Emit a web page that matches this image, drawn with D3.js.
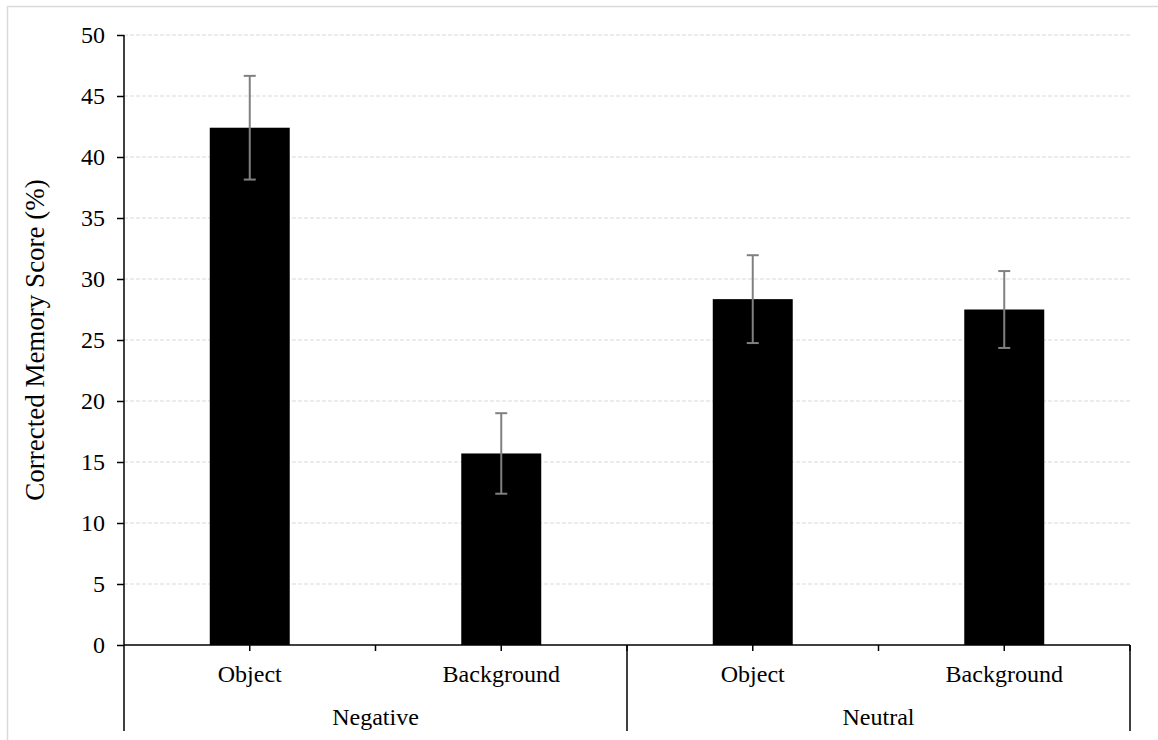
<!DOCTYPE html>
<html>
<head>
<meta charset="utf-8">
<script src="https://cdn.jsdelivr.net/npm/d3@7"></script>
<style>
  html, body { margin: 0; padding: 0; background: #fff; }
  svg { display: block; }
  text { font-family: "Liberation Serif", "Times New Roman", serif; fill: #000; }
</style>
</head>
<body>
<svg id="chart" width="1158" height="740"></svg>
<script>
// Corrected memory scores by valence and item type
const groups = ["Negative", "Neutral"];
const items = ["Object", "Background"];
const categories = ["Negative|Object", "Negative|Background", "Neutral|Object", "Neutral|Background"];
const scores = [42.4, 15.7, 28.35, 27.5];
const errors = [4.25, 3.3, 3.6, 3.15];
const yTicks = [0, 5, 10, 15, 20, 25, 30, 35, 40, 45, 50];

const svg = d3.select("#chart");
const W = 1158, H = 740;
const plotLeft = 124, plotRight = 1130, plotTop = 35, plotBottom = 645, axisFoot = 731;

svg.append("rect").attr("width", W).attr("height", H).attr("fill", "#fff");
// outer frame
svg.append("rect")
  .attr("x", 7.5).attr("y", 6.5).attr("width", W).attr("height", H)
  .attr("fill", "none").attr("stroke", "#d9d9d9").attr("stroke-width", 1.5);

const y = d3.scaleLinear().domain([0, 50]).range([plotBottom, plotTop]);
const x = d3.scaleBand().domain(categories).range([plotLeft, plotRight])
  .paddingInner(0.682).paddingOuter(0.341);
const slot = d3.scaleBand().domain(categories).range([plotLeft, plotRight]).padding(0);
const grp = d3.scaleBand().domain(groups).range([plotLeft, plotRight]).padding(0);

// gridlines
svg.append("g").selectAll("line")
  .data(yTicks.filter(t => t > 0))
  .join("line")
  .attr("x1", plotLeft).attr("x2", plotRight)
  .attr("y1", d => y(d)).attr("y2", d => y(d))
  .attr("stroke", "#d9d9d9").attr("stroke-width", 1)
  .attr("stroke-dasharray", "4,2");

// bars
svg.append("g").selectAll("rect")
  .data(categories)
  .join("rect")
  .attr("x", d => x(d))
  .attr("width", x.bandwidth())
  .attr("y", (d, i) => y(scores[i]))
  .attr("height", (d, i) => y(0) - y(scores[i]))
  .attr("fill", "#000");

// error bars
const eb = svg.append("g").attr("stroke", "#808080").attr("stroke-width", 2);
categories.forEach((c, i) => {
  const cx = x(c) + x.bandwidth() / 2;
  const hi = y(scores[i] + errors[i]), lo = y(scores[i] - errors[i]);
  eb.append("line").attr("x1", cx).attr("x2", cx).attr("y1", hi).attr("y2", lo);
  eb.append("line").attr("x1", cx - 6).attr("x2", cx + 6).attr("y1", hi).attr("y2", hi);
  eb.append("line").attr("x1", cx - 6).attr("x2", cx + 6).attr("y1", lo).attr("y2", lo);
});

// y axis
const yAxis = d3.axisLeft(y).tickValues(yTicks).tickSize(7).tickPadding(12);
const yg = svg.append("g").attr("transform", `translate(${plotLeft},0)`).call(yAxis);
yg.select(".domain").remove();
yg.selectAll(".tick line").attr("stroke", "#000").attr("stroke-width", 1.5);
yg.selectAll(".tick text").attr("font-size", 24).attr("font-family", "Liberation Serif");
svg.append("line").attr("x1", plotLeft).attr("x2", plotLeft).attr("y1", plotTop).attr("y2", axisFoot)
  .attr("stroke", "#000").attr("stroke-width", 1.5);

// x axis baseline
svg.append("line").attr("x1", plotLeft).attr("x2", plotRight).attr("y1", plotBottom).attr("y2", plotBottom)
  .attr("stroke", "#000").attr("stroke-width", 1.5);

// short ticks at category centres and boundaries
const tickXs = [];
categories.forEach(c => { tickXs.push(slot(c) + slot.bandwidth() / 2); tickXs.push(slot(c) + slot.bandwidth()); });
svg.append("g").selectAll("line").data(tickXs).join("line")
  .attr("x1", d => d).attr("x2", d => d).attr("y1", plotBottom).attr("y2", plotBottom + 6)
  .attr("stroke", "#000").attr("stroke-width", 1.5);

// group dividers
svg.append("g").selectAll("line").data(groups).join("line")
  .attr("x1", d => grp(d) + grp.bandwidth()).attr("x2", d => grp(d) + grp.bandwidth())
  .attr("y1", plotBottom).attr("y2", axisFoot)
  .attr("stroke", "#000").attr("stroke-width", 1.5);

// item labels
svg.append("g").selectAll("text").data(categories).join("text")
  .attr("x", d => slot(d) + slot.bandwidth() / 2)
  .attr("y", 682)
  .attr("text-anchor", "middle").attr("font-size", 24)
  .text(d => d.split("|")[1]);

// group labels
svg.append("g").selectAll("text").data(groups).join("text")
  .attr("x", d => grp(d) + grp.bandwidth() / 2)
  .attr("y", 725)
  .attr("text-anchor", "middle").attr("font-size", 24)
  .text(d => d);

// y axis title
svg.append("text")
  .attr("transform", `translate(44,${(plotTop + plotBottom) / 2}) rotate(-90)`)
  .attr("text-anchor", "middle").attr("font-size", 27)
  .text("Corrected Memory Score (%)");
</script>
</body>
</html>
